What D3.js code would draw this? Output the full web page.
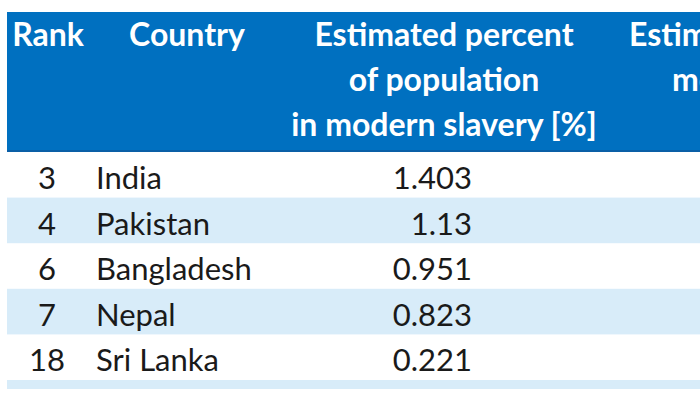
<!DOCTYPE html>
<html>
<head>
<meta charset="utf-8">
<script src="https://cdn.jsdelivr.net/npm/d3@7"></script>
<style>
  html, body { margin: 0; padding: 0; background: #ffffff; }
  svg { display: block; }
</style>
</head>
<body>
<svg id="chart" width="700" height="400"></svg>
<script>
// ---- data ----
const ranks = ["3", "4", "6", "7", "18"];
const countries = ["India", "Pakistan", "Bangladesh", "Nepal", "Sri Lanka"];
const percents = ["1.403", "1.13", "0.951", "0.823", "0.221"];
const headerRank = ["Rank"];
const headerCountry = ["Country"];
const headerPercent = ["Estimated percent", "of population", "in modern slavery [%]"];
const headerNumber = ["Estimated number in", "modern slavery"];

// ---- layout ----
const W = 700, H = 400;
const left = 7;
const headTop = 12, headBottom = 152;
const rowH = 45.6;
const svg = d3.select("#chart");

const font = "Lato, 'Open Sans', sans-serif";
const blue = "#0070c0";
const band = "#d8ecf9";

// header background
svg.append("rect").attr("x", left).attr("y", headTop)
  .attr("width", W - left).attr("height", headBottom - headTop).attr("fill", blue);
svg.append("rect").attr("x", left).attr("y", headBottom - 2)
  .attr("width", W - left).attr("height", 2).attr("fill", "#0a5fa6");

// row scale
const idx = d3.range(countries.length + 1);
const y = d3.scaleBand().domain(idx).range([headBottom, headBottom + rowH * idx.length]).padding(0);

// row bands (odd rows light blue), plus partial last band
svg.selectAll("rect.band").data(idx.filter(i => i % 2 === 1))
  .join("rect").attr("class", "band")
  .attr("x", left).attr("width", W - left)
  .attr("y", i => y(i))
  .attr("height", i => i < countries.length ? y.bandwidth() : 9)
  .attr("fill", band);

// header text
const hline = d3.scaleLinear().domain([0, 1]).range([46, 91]);
const headerG = svg.append("g").attr("fill", "#ffffff")
  .attr("font-family", font).attr("font-weight", "bold").attr("font-size", 32);

headerG.append("text").attr("x", 48).attr("y", hline(0)).attr("text-anchor", "middle").text(headerRank[0]);
headerG.append("text").attr("x", 187).attr("y", hline(0)).attr("text-anchor", "middle").text(headerCountry[0]);
headerG.selectAll("text.p").data(headerPercent).join("text").attr("class", "p")
  .attr("x", 444).attr("y", (d, i) => hline(i)).attr("text-anchor", "middle").text(d => d);
headerG.selectAll("text.n").data(headerNumber).join("text").attr("class", "n")
  .attr("x", (d, i) => i === 0 ? 629 : 672).attr("y", (d, i) => hline(i))
  .attr("text-anchor", "start").text(d => d);

// body text
const bodyG = svg.append("g").attr("fill", "#1a1a1a")
  .attr("font-family", font).attr("font-size", 31);
const base = i => y(i) + 37;

bodyG.selectAll("text.r").data(ranks).join("text").attr("class", "r")
  .attr("x", 47).attr("y", (d, i) => base(i)).attr("text-anchor", "middle").text(d => d);
bodyG.selectAll("text.c").data(countries).join("text").attr("class", "c")
  .attr("x", 96).attr("y", (d, i) => base(i)).attr("text-anchor", "start").text(d => d);
bodyG.selectAll("text.v").data(percents).join("text").attr("class", "v")
  .attr("x", 472).attr("y", (d, i) => base(i)).attr("text-anchor", "end").text(d => d);
</script>
</body>
</html>
